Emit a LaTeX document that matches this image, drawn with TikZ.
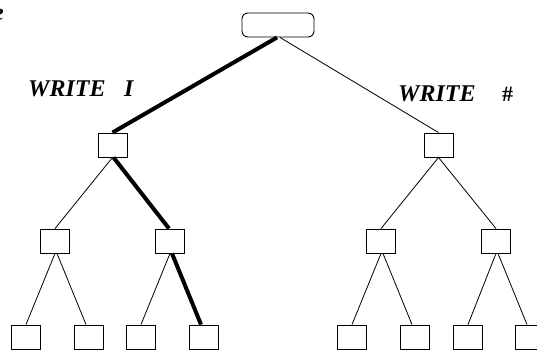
\documentclass[tikz,border=0pt]{standalone}
\usepackage{fontspec}
\newfontfamily\labelfont{Liberation Serif}
\begin{document}
\begin{tikzpicture}[x=1pt,y=-1pt,
  leaf/.style={draw,line width=0.9pt,minimum width=29pt,minimum height=24pt,inner sep=0pt},
  rootbox/.style={draw,line width=0.9pt,rounded corners=6pt,minimum width=72pt,minimum height=24pt,inner sep=0pt},
  thinedge/.style={line width=0.8pt},
  thickedge/.style={line width=4pt},
  lbl/.style={font=\labelfont\bfseries\itshape\fontsize{24}{26}\selectfont,inner sep=0pt,anchor=base west}]
\useasboundingbox (0,0) rectangle (537,350);
\fill[white] (0,0) rectangle (537,350);
% root
\node[rootbox] (r) at (278,25) {};
% level 1
\node[leaf] (a) at (112.5,145) {};
\node[leaf] (b) at (438.5,145) {};
% level 2
\node[leaf] (aa) at (55,241) {};
\node[leaf] (ab) at (170,241) {};
\node[leaf] (ba) at (381,241) {};
\node[leaf] (bb) at (496,241) {};
% level 3
\node[leaf] (aaa) at (26,337) {};
\node[leaf] (aab) at (89,337) {};
\node[leaf] (aba) at (141,337) {};
\node[leaf] (abb) at (204,337) {};
\node[leaf] (baa) at (352,337) {};
\node[leaf] (bab) at (415,337) {};
\node[leaf] (bba) at (468,337) {};
\node[leaf] (bbb) at (530,337) {};
% edges
\draw[thickedge] ([xshift=-1pt]r.south) -- (a.north);
\draw[thinedge] ([xshift=2pt]r.south) -- (b.north);
\draw[thinedge] (a.south) -- (aa.north);
\draw[thickedge] ([xshift=1pt]a.south) -- ([xshift=-1pt]ab.north);
\draw[thinedge] (b.south) -- (ba.north);
\draw[thinedge] (b.south) -- (bb.north);
\draw[thinedge] (aa.south) -- (aaa.north);
\draw[thinedge] ([xshift=2pt]aa.south) -- ([xshift=-3pt]aab.north);
\draw[thinedge] (ab.south) -- (aba.north);
\draw[thickedge] ([xshift=2pt]ab.south) -- ([xshift=-3pt]abb.north);
\draw[thinedge] (ba.south) -- (baa.north);
\draw[thinedge] ([xshift=2pt]ba.south) -- ([xshift=-3pt]bab.north);
\draw[thinedge] (bb.south) -- (bba.north);
\draw[thinedge] ([xshift=2pt]bb.south) -- ([xshift=-3pt]bbb.north);
% labels
\node[lbl] (w1) at (28,96) {WRITE};
\node[lbl] (w1i) at (124,96) {I};
\node[lbl] (w2) at (398,102) {WRITE};
\node[lbl,font=\labelfont\bfseries\fontsize{22}{26}\selectfont] (w2h) at (502,102) {\#};
\node[lbl,anchor=base east] (frag) at (4,21) {e};
\end{tikzpicture}
\end{document}
